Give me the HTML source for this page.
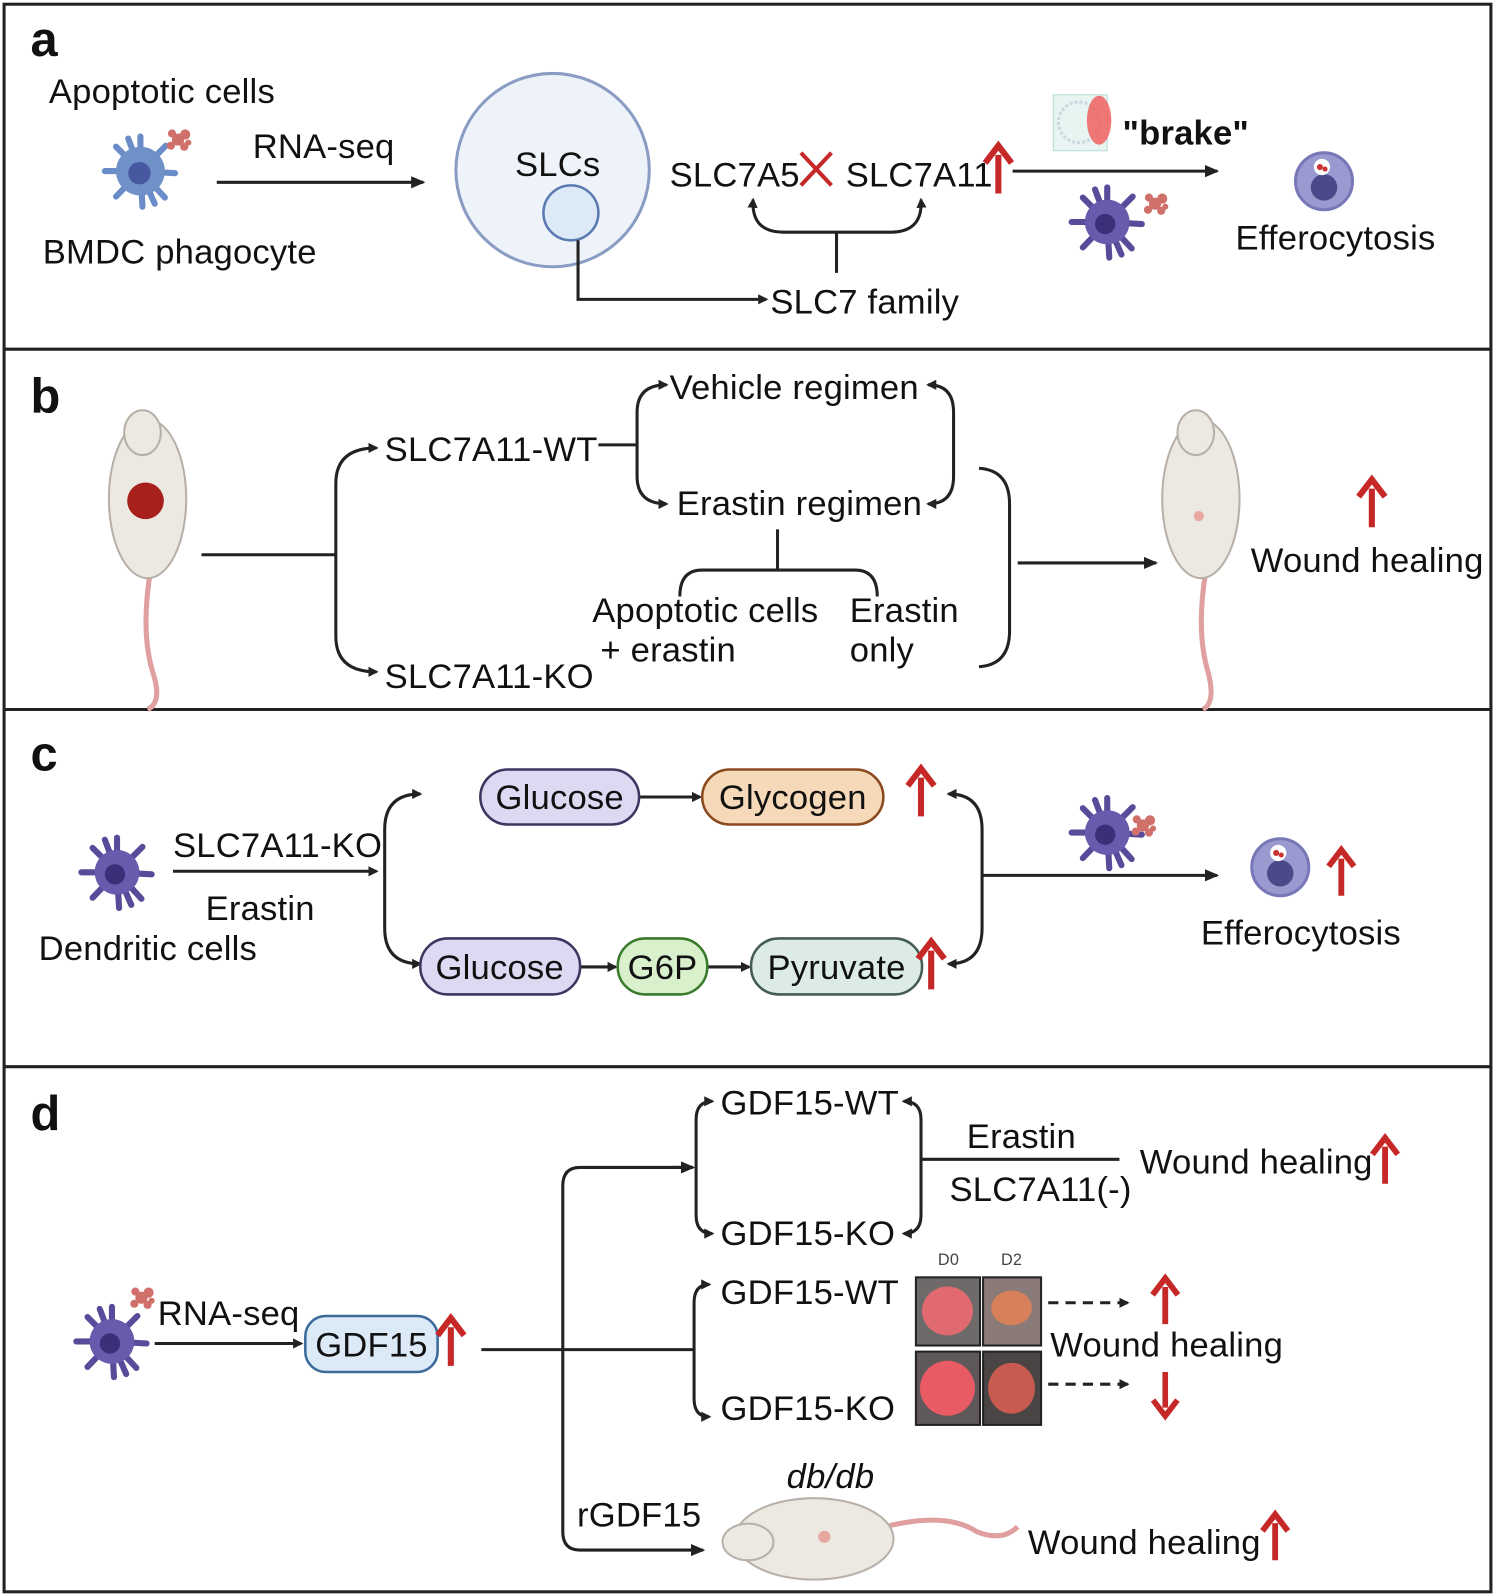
<!DOCTYPE html>
<html><head><meta charset="utf-8"><style>
html,body{margin:0;padding:0;background:#fff}
svg{display:block}
text{font-family:"Liberation Sans",sans-serif;font-size:34px;letter-spacing:0.2px;fill:#111}
.lbl{font-weight:bold;font-size:48px}
</style></head><body>
<svg width="1496" height="1595" viewBox="0 0 1470 1567" xmlns="http://www.w3.org/2000/svg">
<defs>
<marker id="ah" markerWidth="10" markerHeight="10" refX="8" refY="5" orient="auto-start-reverse" markerUnits="userSpaceOnUse" viewBox="0 0 10 10"><path d="M0,0 L10,5 L0,10 z" fill="#222"/></marker>
<marker id="ahs" markerWidth="14" markerHeight="14" refX="12" refY="7" orient="auto-start-reverse" markerUnits="userSpaceOnUse" viewBox="0 0 14 14"><path d="M0,1 L14,7 L0,13 z" fill="#222"/></marker>
<symbol id="up" viewBox="0 0 30 50" overflow="visible"><path d="M15,50 V12" stroke="#c62828" stroke-width="6"/><path d="M2,20 L15,3 L28,20" stroke="#c62828" stroke-width="6" fill="none"/></symbol>
<symbol id="dc" viewBox="-40 -40 80 80" overflow="visible">
<g stroke="#5a4a9a" stroke-width="6" stroke-linecap="round">
<line x1="0" y1="0" x2="0" y2="-34"/><line x1="0" y1="0" x2="25" y2="-25"/><line x1="0" y1="0" x2="34" y2="2"/><line x1="0" y1="0" x2="24" y2="26"/><line x1="0" y1="0" x2="2" y2="35"/><line x1="0" y1="0" x2="-24" y2="25"/><line x1="0" y1="0" x2="-35" y2="0"/><line x1="0" y1="0" x2="-24" y2="-24"/><line x1="0" y1="0" x2="-12" y2="-32"/><line x1="0" y1="0" x2="14" y2="32"/></g>
<circle r="22" fill="#6a5aae"/><circle cx="-2" cy="2" r="10" fill="#3a2f78"/></symbol>
<symbol id="dcb" viewBox="-40 -40 80 80" overflow="visible">
<g stroke="#6a8cc8" stroke-width="6" stroke-linecap="round">
<line x1="0" y1="0" x2="0" y2="-34"/><line x1="0" y1="0" x2="25" y2="-25"/><line x1="0" y1="0" x2="34" y2="2"/><line x1="0" y1="0" x2="24" y2="26"/><line x1="0" y1="0" x2="2" y2="35"/><line x1="0" y1="0" x2="-24" y2="25"/><line x1="0" y1="0" x2="-35" y2="0"/><line x1="0" y1="0" x2="-24" y2="-24"/><line x1="0" y1="0" x2="-12" y2="-32"/><line x1="0" y1="0" x2="14" y2="32"/></g>
<circle r="24" fill="#7090c8"/><circle cx="-1" cy="2" r="11" fill="#4858a0"/></symbol>
<symbol id="ap" viewBox="-15 -15 30 30" overflow="visible"><g fill="#d0706a"><circle r="6"/><circle cx="7" cy="-5" r="5"/><circle cx="-6" cy="-6" r="4"/><circle cx="6" cy="7" r="4"/><circle cx="-7" cy="6" r="4"/><circle cx="10" cy="3" r="3"/></g></symbol>
<symbol id="ef" viewBox="-30 -30 60 60" overflow="visible"><circle r="28" fill="#9a9ad0" stroke="#7878b8" stroke-width="3"/><circle cx="0" cy="6" r="13" fill="#4a4a8a"/><circle cx="-2" cy="-14" r="8" fill="#fff"/><circle cx="-4" cy="-14" r="3" fill="#c33"/><circle cx="1" cy="-12" r="2.5" fill="#c33"/></symbol>
</defs>
<g fill="none" stroke="#222" stroke-width="3">
<rect x="4" y="4" width="1461" height="1560"/>
<line x1="4" y1="343" x2="1465" y2="343"/><line x1="4" y1="697" x2="1465" y2="697"/><line x1="4" y1="1048" x2="1465" y2="1048"/>
</g>

<!-- Panel a -->
<text x="30" y="55" class="lbl">a</text>
<text x="48" y="101">Apoptotic cells</text>
<use href="#dcb" x="98" y="128" width="80" height="80"/>
<use href="#ap" x="160" y="122" width="30" height="30"/>
<line x1="213" y1="179" x2="416" y2="179" stroke="#222" stroke-width="3" marker-end="url(#ahs)"/>
<text x="318" y="155" text-anchor="middle">RNA-seq</text>
<text x="42" y="259">BMDC phagocyte</text>
<circle cx="543" cy="167" r="95" fill="#eef3fa" stroke="#8a9cc4" stroke-width="3"/>
<circle cx="561" cy="209" r="27" fill="#dce9f7" stroke="#5a7ab0" stroke-width="2.5"/>
<text x="548" y="173" text-anchor="middle">SLCs</text>
<path d="M568,236 V294 H753" fill="none" stroke="#222" stroke-width="3" marker-end="url(#ah)"/>
<text x="757" y="308">SLC7 family</text>
<text x="658" y="183">SLC7A5</text>
<path d="M787,150 L817,182 M817,150 L787,182" stroke="#c62828" stroke-width="4"/>
<text x="831" y="183">SLC7A11</text>
<use href="#up" x="966" y="140" width="30" height="50"/>
<path d="M740,196 Q738,228 770,228 H875 Q907,228 905,196" fill="none" stroke="#222" stroke-width="3" marker-start="url(#ah)" marker-end="url(#ah)"/>
<line x1="822" y1="228" x2="822" y2="268" stroke="#222" stroke-width="3"/>
<line x1="995" y1="168" x2="1196" y2="168" stroke="#222" stroke-width="3" marker-end="url(#ahs)"/>
<rect x="1035" y="93" width="53" height="55" fill="#e8f4f2" stroke="#b8dcd6"/>
<circle cx="1060" cy="120" r="20" fill="none" stroke="#c6d8e0" stroke-width="3" stroke-dasharray="3 2"/>
<ellipse cx="1080" cy="118" rx="12" ry="24" fill="#f06060" opacity="0.85"/>
<text x="1103" y="142" font-weight="bold">"brake"</text>
<use href="#dc" x="1048" y="178" width="80" height="80"/>
<use href="#ap" x="1120" y="185" width="30" height="30"/>
<use href="#ef" x="1271" y="148" width="60" height="60"/>
<text x="1214" y="245">Efferocytosis</text>

<!-- Panel b -->
<text x="30" y="405" class="lbl">b</text>
<g>
<path d="M148,560 Q138,620 150,660 Q160,690 145,697" fill="none" stroke="#e0a0a0" stroke-width="5"/>
<ellipse cx="145" cy="490" rx="38" ry="78" fill="#ece8e2" stroke="#b8b0a8" stroke-width="2"/>
<ellipse cx="140" cy="425" rx="18" ry="22" fill="#ece8e2" stroke="#b8b0a8" stroke-width="2"/>
<circle cx="143" cy="492" r="18" fill="#a8201c"/>
<path d="M1185,560 Q1175,620 1187,660 Q1195,690 1182,697" fill="none" stroke="#e0a0a0" stroke-width="5"/>
<ellipse cx="1180" cy="490" rx="38" ry="78" fill="#ece8e2" stroke="#b8b0a8" stroke-width="2"/>
<ellipse cx="1175" cy="425" rx="18" ry="22" fill="#ece8e2" stroke="#b8b0a8" stroke-width="2"/>
<circle cx="1178" cy="507" r="5" fill="#e8a8a0"/>
</g>
<g fill="none" stroke="#222" stroke-width="3">
<line x1="198" y1="545" x2="330" y2="545"/>
<path d="M370,440 Q330,440 330,475 V625 Q330,660 370,660" marker-start="url(#ah)" marker-end="url(#ah)"/>
<line x1="588" y1="437" x2="626" y2="437"/>
<path d="M655,378 Q626,378 626,405 V468 Q626,495 655,495" marker-start="url(#ah)" marker-end="url(#ah)"/>
<path d="M912,378 Q937,378 937,405 V468 Q937,495 912,495" marker-start="url(#ah)" marker-end="url(#ah)"/>
<line x1="764" y1="520" x2="764" y2="560"/>
<path d="M668,586 Q668,560 690,560 H840 Q862,560 862,586"/>
<path d="M962,460 Q992,462 992,495 V620 Q992,653 962,655"/>
<line x1="1000" y1="553" x2="1136" y2="553" marker-end="url(#ahs)"/>
</g>
<text x="378" y="453">SLC7A11-WT</text>
<text x="658" y="392">Vehicle regimen</text>
<text x="665" y="506">Erastin regimen</text>
<text x="582" y="611">Apoptotic cells</text>
<text x="590" y="650">+ erastin</text>
<text x="835" y="611">Erastin</text>
<text x="835" y="650">only</text>
<text x="378" y="676">SLC7A11-KO</text>
<use href="#up" x="1333" y="468" width="30" height="50"/>
<text x="1229" y="562">Wound healing</text>

<!-- Panel c -->
<text x="30" y="757" class="lbl">c</text>
<use href="#dc" x="75" y="817" width="80" height="80"/>
<text x="170" y="842">SLC7A11-KO</text>
<line x1="170" y1="856" x2="370" y2="856" stroke="#222" stroke-width="3" marker-end="url(#ah)"/>
<text x="202" y="904">Erastin</text>
<text x="38" y="943">Dendritic cells</text>
<g fill="none" stroke="#222" stroke-width="3">
<path d="M413,780 Q378,780 378,815 V912 Q378,947 413,947" marker-start="url(#ah)" marker-end="url(#ah)"/>
<path d="M932,780 Q965,780 965,815 V912 Q965,947 932,947" marker-start="url(#ah)" marker-end="url(#ah)"/>
<line x1="965" y1="860" x2="1196" y2="860" marker-end="url(#ahs)"/>
<line x1="628" y1="783" x2="688" y2="783" marker-end="url(#ah)"/>
<line x1="570" y1="950" x2="605" y2="950" marker-end="url(#ah)"/>
<line x1="695" y1="950" x2="736" y2="950" marker-end="url(#ah)"/>
</g>
<rect x="472" y="756" width="156" height="54" rx="27" fill="#ddd9f3" stroke="#3d3660" stroke-width="2.5"/>
<text x="550" y="795" text-anchor="middle">Glucose</text>
<rect x="690" y="756" width="178" height="54" rx="27" fill="#f5d9b8" stroke="#8a4a1e" stroke-width="2.5"/>
<text x="779" y="795" text-anchor="middle">Glycogen</text>
<use href="#up" x="890" y="752" width="30" height="50"/>
<rect x="413" y="922" width="157" height="55" rx="27" fill="#ddd9f3" stroke="#3d3660" stroke-width="2.5"/>
<text x="491" y="962" text-anchor="middle">Glucose</text>
<rect x="607" y="922" width="88" height="55" rx="27" fill="#d8f0cc" stroke="#3a7a2c" stroke-width="2.5"/>
<text x="651" y="962" text-anchor="middle">G6P</text>
<rect x="738" y="922" width="168" height="55" rx="27" fill="#dcebe6" stroke="#445c55" stroke-width="2.5"/>
<text x="822" y="962" text-anchor="middle">Pyruvate</text>
<use href="#up" x="900" y="922" width="30" height="50"/>
<use href="#dc" x="1048" y="778" width="80" height="80"/>
<use href="#ap" x="1108" y="796" width="30" height="30"/>
<use href="#ef" x="1228" y="822" width="60" height="60"/>
<use href="#up" x="1303" y="832" width="30" height="48"/>
<text x="1180" y="928">Efferocytosis</text>

<!-- Panel d -->
<text x="30" y="1110" class="lbl">d</text>
<use href="#dc" x="70" y="1278" width="80" height="80"/>
<use href="#ap" x="124" y="1260" width="30" height="30"/>
<text x="155" y="1302">RNA-seq</text>
<line x1="152" y1="1320" x2="296" y2="1320" stroke="#222" stroke-width="3" marker-end="url(#ah)"/>
<rect x="300" y="1293" width="130" height="55" rx="20" fill="#dceaf8" stroke="#3a6a9a" stroke-width="2.5"/>
<text x="365" y="1333" text-anchor="middle">GDF15</text>
<use href="#up" x="428" y="1292" width="30" height="50"/>
<g fill="none" stroke="#222" stroke-width="3">
<line x1="473" y1="1326" x2="682" y2="1326"/>
<path d="M681,1147 H570 Q553,1147 553,1165 V1505 Q553,1523 570,1523 H691" marker-end="url(#ahs)"/>
<line x1="660" y1="1147" x2="681" y2="1147" marker-end="url(#ahs)"/>
<path d="M700,1082 Q684,1082 684,1100 V1194 Q684,1212 700,1212" marker-start="url(#ah)" marker-end="url(#ah)"/>
<path d="M888,1082 Q905,1082 905,1100 V1194 Q905,1212 888,1212" marker-start="url(#ah)" marker-end="url(#ah)"/>
<line x1="905" y1="1139" x2="1100" y2="1139"/>
<path d="M697,1262 Q682,1262 682,1280 V1374 Q682,1392 697,1392" marker-start="url(#ah)" marker-end="url(#ah)"/>
<line x1="1030" y1="1280" x2="1108" y2="1280" stroke-dasharray="10 7" marker-end="url(#ah)"/>
<line x1="1030" y1="1360" x2="1108" y2="1360" stroke-dasharray="10 7" marker-end="url(#ah)"/>
</g>
<text x="708" y="1095">GDF15-WT</text>
<text x="708" y="1223">GDF15-KO</text>
<text x="950" y="1128">Erastin</text>
<text x="933" y="1180">SLC7A11(-)</text>
<text x="1120" y="1153">Wound healing</text>
<use href="#up" x="1346" y="1115" width="30" height="48"/>
<text x="708" y="1281">GDF15-WT</text>
<text x="708" y="1395">GDF15-KO</text>
<text x="932" y="1243" text-anchor="middle" style="font-size:16px;fill:#444">D0</text>
<text x="994" y="1243" text-anchor="middle" style="font-size:16px;fill:#444">D2</text>
<g stroke="#222" stroke-width="2">
<rect x="900" y="1255" width="63" height="67" fill="#6e6a6a"/>
<rect x="966" y="1255" width="57" height="67" fill="#8a7a78"/>
<rect x="900" y="1328" width="63" height="72" fill="#5e5858"/>
<rect x="966" y="1328" width="57" height="72" fill="#4a4444"/>
</g>
<ellipse cx="931" cy="1288" rx="25" ry="24" fill="#e06a70"/>
<ellipse cx="994" cy="1285" rx="20" ry="17" fill="#d8805a"/>
<ellipse cx="931" cy="1364" rx="27" ry="27" fill="#e85a64"/>
<ellipse cx="994" cy="1364" rx="23" ry="25" fill="#c85a50"/>
<use href="#up" x="1130" y="1253" width="30" height="48"/>
<g transform="translate(1145,1394) scale(1,-1)"><use href="#up" x="-15" y="0" width="30" height="46"/></g>
<text x="1032" y="1333">Wound healing</text>
<text x="567" y="1500">rGDF15</text>
<text x="773" y="1462" font-style="italic">db/db</text>
<path d="M870,1500 Q930,1485 960,1505 Q985,1515 1000,1500" fill="none" stroke="#e0a0a0" stroke-width="5"/>
<ellipse cx="800" cy="1512" rx="78" ry="40" fill="#ece8e2" stroke="#b8b0a8" stroke-width="2"/>
<ellipse cx="735" cy="1515" rx="25" ry="18" fill="#ece8e2" stroke="#b8b0a8" stroke-width="2"/>
<circle cx="810" cy="1510" r="6" fill="#e8a8a0"/>
<text x="1010" y="1527">Wound healing</text>
<use href="#up" x="1238" y="1485" width="30" height="48"/>
</svg>
</body></html>
